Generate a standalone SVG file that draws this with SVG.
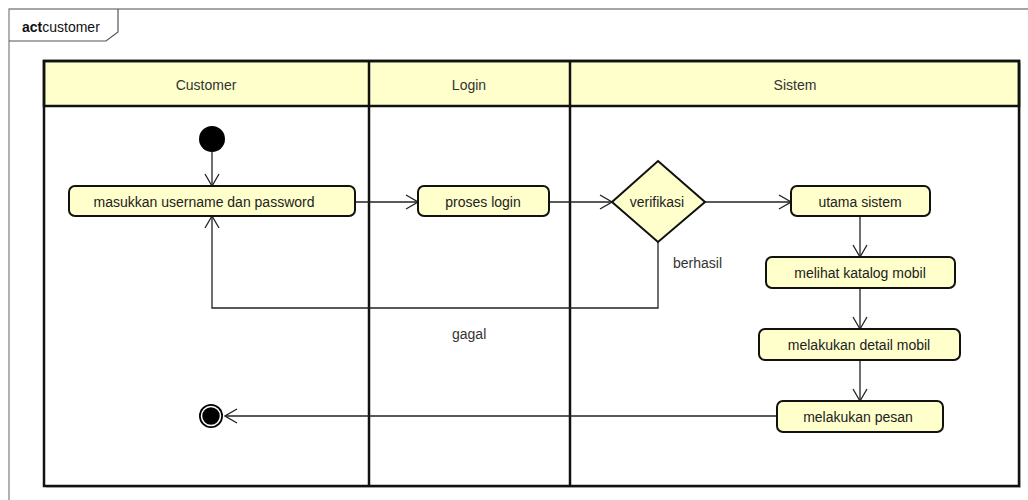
<svg xmlns="http://www.w3.org/2000/svg" width="1028" height="500" viewBox="0 0 1028 500">
<style>
.t{font-family:"Liberation Sans",Arial,sans-serif;font-size:14px;fill:#222;text-anchor:middle}
.h{font-family:"Liberation Sans",Arial,sans-serif;font-size:14px;fill:#333;text-anchor:middle}
.lbl{font-family:"Liberation Sans",Arial,sans-serif;font-size:14px;fill:#333}
.act{fill:#FFFFCC;stroke:#111;stroke-width:2}
.lane{fill:none;stroke:#111;stroke-width:2.5}
.hdr{fill:#FFFFCC;stroke:#111;stroke-width:2.5}
.c{fill:none;stroke:#222;stroke-width:1.3}
.sh{fill:#999;opacity:0.5}
</style>
<defs>
<marker id="ah" viewBox="0 0 14 16" refX="13" refY="8" markerWidth="14" markerHeight="16" markerUnits="userSpaceOnUse" orient="auto">
<path d="M1,1 L13,8 L1,15" fill="none" stroke="#222" stroke-width="1.3"/>
</marker>
</defs>
<rect width="1028" height="500" fill="#fff"/>
<g id="frame">
<path d="M9,500 V9 H1028" fill="none" stroke="#888" stroke-width="1.3"/>
<path d="M9,41 H106 L118,32 V9" fill="none" stroke="#555" stroke-width="1.2"/>
<text x="22" y="32" style="font-family:'Liberation Sans',Arial,sans-serif;font-size:14px;fill:#111"><tspan font-weight="bold">act</tspan>customer</text>
</g>
<g id="swimlanes">
<rect x="46" y="63" width="975" height="425" class="sh"/>
<rect x="44" y="61" width="975" height="425" fill="#fff"/>
<rect x="44" y="61" width="975" height="45" class="hdr"/>
<rect x="44" y="61" width="975" height="425" class="lane"/>
<line x1="369" y1="61" x2="369" y2="486" stroke="#111" stroke-width="2.5"/>
<line x1="570" y1="61" x2="570" y2="486" stroke="#111" stroke-width="2.5"/>
<text class="h" x="206" y="90">Customer</text>
<text class="h" x="469" y="90">Login</text>
<text class="h" x="795" y="90">Sistem</text>
</g>
<g id="connectors">
<line class="c" x1="212" y1="152" x2="212" y2="186" marker-end="url(#ah)"/>
<line class="c" x1="355" y1="202" x2="418" y2="202" marker-end="url(#ah)"/>
<line class="c" x1="549" y1="202" x2="612" y2="202" marker-end="url(#ah)"/>
<line class="c" x1="705" y1="202" x2="791" y2="202" marker-end="url(#ah)"/>
<polyline class="c" points="658,242 658,308 212,308 212,216" marker-end="url(#ah)"/>
<line class="c" x1="860" y1="216" x2="860" y2="257" marker-end="url(#ah)"/>
<line class="c" x1="860" y1="288" x2="860" y2="329" marker-end="url(#ah)"/>
<line class="c" x1="860" y1="360" x2="860" y2="401" marker-end="url(#ah)"/>
<line class="c" x1="777" y1="416" x2="225" y2="416" marker-end="url(#ah)"/>
<text class="lbl" x="673" y="268">berhasil</text>
<text class="lbl" x="452" y="339">gagal</text>
</g>
<g id="start">
<circle cx="212" cy="139" r="13" fill="#000"/>
</g>
<g id="masukkan">
<rect x="69" y="186" width="286" height="30" rx="6" class="act"/>
<text class="t" x="204" y="207">masukkan username dan password</text>
</g>
<g id="proses_login">
<rect x="418" y="186" width="131" height="30" rx="6" class="act"/>
<text class="t" x="483" y="207">proses login</text>
</g>
<g id="verifikasi">
<polygon points="658,161 705,202 658,242 612,202" class="act"/>
<text class="t" x="657" y="207">verifikasi</text>
</g>
<g id="utama_sistem">
<rect x="791" y="186" width="139" height="30" rx="6" class="act"/>
<text class="t" x="860" y="207">utama sistem</text>
</g>
<g id="melihat_katalog">
<rect x="766" y="257" width="189" height="31" rx="6" class="act"/>
<text class="t" x="860" y="278">melihat katalog mobil</text>
</g>
<g id="detail_mobil">
<rect x="759" y="329" width="201" height="31" rx="6" class="act"/>
<text class="t" x="859" y="350">melakukan detail mobil</text>
</g>
<g id="pesan">
<rect x="777" y="401" width="166" height="31" rx="6" class="act"/>
<text class="t" x="858" y="422">melakukan pesan</text>
</g>
<g id="end">
<circle cx="211" cy="416" r="12" fill="#000"/>
<circle cx="211" cy="416" r="9.5" fill="none" stroke="#fff" stroke-width="1.5"/>
</g>
</svg>
